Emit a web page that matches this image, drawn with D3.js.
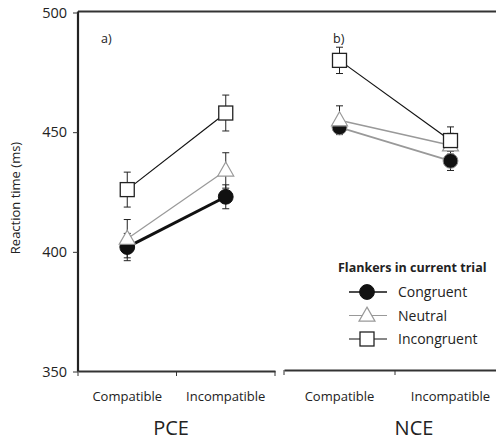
<!DOCTYPE html>
<html>
<head>
<meta charset="utf-8">
<script src="https://cdn.jsdelivr.net/npm/d3@7"></script>
<style>
  body { margin: 0; background: #fff; }
  svg { display: block; }
  svg text { font-family: "Open Sans", sans-serif; }
</style>
</head>
<body>
<svg width="496" height="442"></svg>
<script>
// ---- data ----
var categories = ["Compatible", "Incompatible"];
var panels = ["PCE", "NCE"];
var panelTags = ["a)", "b)"];
var series = ["Congruent", "Neutral", "Incongruent"];

// means per panel [PCE, NCE], each [Compatible, Incompatible]
var congruentMean   = [[402, 423], [452, 438]];
var neutralMean     = [[405.5, 434], [455, 444.5]];
var incongruentMean = [[426, 458], [480, 446.5]];
// error bar half-lengths (ms)
var congruentErr    = [[5.7, 5], [3, 4]];
var neutralErr      = [[8, 7.4], [6, 5]];
var incongruentErr  = [[7.3, 7.5], [5.5, 5.7]];

var yTicks = [350, 400, 450, 500];
var legendTitle = "Flankers in current trial";

// ---- setup ----
var svg = d3.select("svg");

var y = d3.scaleLinear().domain([350, 500]).range([371.5, 12.5]);

var xPanel = [
  d3.scaleBand().domain(categories).range([78, 275]),
  d3.scaleBand().domain(categories).range([284, 506])
];

var means = [congruentMean, neutralMean, incongruentMean];
var errs = [congruentErr, neutralErr, incongruentErr];

// line styles per panel, per series
var lineStyle = [
  [{c: "#111", w: 3}, {c: "#999", w: 1.2}, {c: "#111", w: 1.2}],
  [{c: "#999", w: 1.6}, {c: "#999", w: 1.6}, {c: "#111", w: 1.2}]
];

function drawMarker(g, s, cx, cy, panel) {
  if (s === 0) {
    g.append("circle").attr("cx", cx).attr("cy", cy).attr("r", 7.4)
      .attr("fill", "#111")
      .attr("stroke", panel === 1 ? "#888" : "#111").attr("stroke-width", 1);
  } else if (s === 1) {
    var h = 14, w = 16;
    g.append("path")
      .attr("d", "M" + cx + "," + (cy - h * 0.6) + "L" + (cx + w / 2) + "," + (cy + h * 0.4) +
                 "L" + (cx - w / 2) + "," + (cy + h * 0.4) + "Z")
      .attr("fill", "#fff").attr("stroke", "#999").attr("stroke-width", 1.2);
  } else {
    var sz = 14;
    g.append("rect").attr("x", cx - sz / 2).attr("y", cy - sz / 2)
      .attr("width", sz).attr("height", sz)
      .attr("fill", "#fff").attr("stroke", "#222").attr("stroke-width", 1.3);
  }
}

// top border, one line over both panels
svg.append("line").attr("x1", 78).attr("x2", 496).attr("y1", 11.5).attr("y2", 11.5)
  .attr("stroke", "#333").attr("stroke-width", 2);

// ---- panels ----
panels.forEach(function(p, pi) {
  var x = xPanel[pi];
  var g = svg.append("g");
  var x1 = x.range()[1];

  // bottom axis
  var xAxis = d3.axisBottom(x).tickSize(0).tickFormat(d => d);
  var ax = g.append("g").attr("transform", "translate(0," + (371 - pi) + ")").call(xAxis);
  ax.attr("font-family", null);
  ax.select(".domain").attr("stroke", "#333").attr("stroke-width", 2);
  ax.selectAll("text").attr("font-size", 13).attr("fill", "#222").attr("dy", null).attr("y", 30 + pi);
  // tick marks at band boundaries
  var bounds = categories.map(c => x(c)).concat([x1]);
  g.selectAll(".bt").data(bounds).enter().append("line")
    .attr("x1", d => d).attr("x2", d => d)
    .attr("y1", 371 - pi).attr("y2", 376 - pi)
    .attr("stroke", "#333").attr("stroke-width", 1);

  // panel tag
  g.append("text").attr("x", pi === 0 ? 101 : 333).attr("y", 43)
    .attr("font-size", 12.5).attr("fill", "#222").text(panelTags[pi]);

  // panel name
  g.append("text").attr("x", pi === 0 ? 171 : 414).attr("y", 435)
    .attr("text-anchor", "middle").attr("font-size", 20).attr("fill", "#222").text(p);

  var cx = c => x(c) + x.bandwidth() / 2;

  // lines
  series.forEach(function(s, si) {
    var pts = categories.map((c, ci) => [cx(c), y(means[si][pi][ci])]);
    g.append("path").attr("d", d3.line()(pts)).attr("fill", "none")
      .attr("stroke", lineStyle[pi][si].c).attr("stroke-width", lineStyle[pi][si].w);
  });

  // error bars then markers
  series.forEach(function(s, si) {
    categories.forEach(function(c, ci) {
      var m = means[si][pi][ci], e = errs[si][pi][ci], px = cx(c);
      var eg = g.append("g").attr("stroke", "#222").attr("stroke-width", 1);
      eg.append("line").attr("x1", px).attr("x2", px).attr("y1", y(m + e)).attr("y2", y(m - e));
      eg.append("line").attr("x1", px - 3.5).attr("x2", px + 3.5).attr("y1", y(m + e)).attr("y2", y(m + e));
      eg.append("line").attr("x1", px - 3.5).attr("x2", px + 3.5).attr("y1", y(m - e)).attr("y2", y(m - e));
    });
  });
  series.forEach(function(s, si) {
    categories.forEach(function(c, ci) {
      drawMarker(g, si, cx(c), y(means[si][pi][ci]), pi);
    });
  });
});

// ---- y axis ----
var yAxis = d3.axisLeft(y).tickValues(yTicks).tickSize(5).tickPadding(6);
var yg = svg.append("g").attr("transform", "translate(78,0)").call(yAxis);
yg.attr("font-family", null);
yg.select(".domain").attr("stroke", "#222").attr("stroke-width", 2.2).attr("d", "M0,11.5V371.5");
yg.selectAll(".tick line").attr("stroke", "#333");
yg.selectAll("text").attr("font-size", 14.5).attr("fill", "#222");

svg.append("text").attr("transform", "translate(20,198) rotate(-90)")
  .attr("text-anchor", "middle").attr("font-size", 13).attr("fill", "#222")
  .text("Reaction time (ms)");

// ---- legend ----
var lg = svg.append("g");
lg.append("text").attr("x", 338).attr("y", 272).attr("font-size", 12.5).attr("font-weight", "bold")
  .attr("fill", "#222").text(legendTitle);
var legendLine = [{c: "#111", w: 1.5}, {c: "#999", w: 1.2}, {c: "#111", w: 1.2}];
series.forEach(function(s, si) {
  var ly = 292 + si * 23.5;
  lg.append("line").attr("x1", 349).attr("x2", 387).attr("y1", ly).attr("y2", ly)
    .attr("stroke", legendLine[si].c).attr("stroke-width", legendLine[si].w);
  drawMarker(lg, si, 367, ly, 0);
  lg.append("text").attr("x", 398).attr("y", ly + 5).attr("font-size", 14).attr("fill", "#222").text(s);
});
</script>
</body>
</html>
